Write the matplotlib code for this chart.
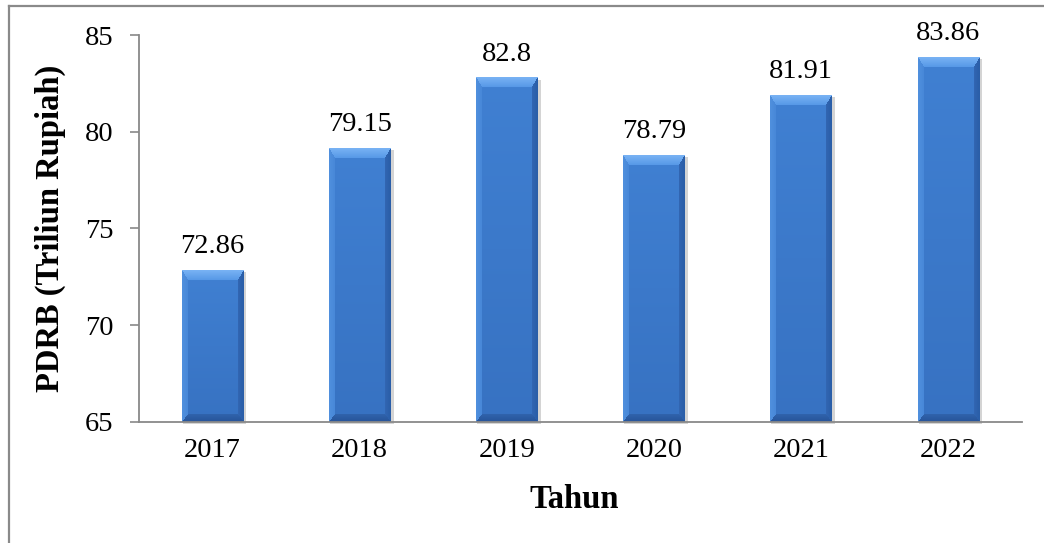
import numpy as np
import matplotlib
matplotlib.use("Agg")
import matplotlib.pyplot as plt
from matplotlib.patches import Rectangle
from matplotlib.lines import Line2D
from matplotlib.colors import to_rgb

tahun = ["2017", "2018", "2019", "2020", "2021", "2022"]
pdrb = [72.86, 79.15, 82.8, 78.79, 81.91, 83.86]
label_teks = ["72.86", "79.15", "82.8", "78.79", "81.91", "83.86"]

plt.rcParams['font.family'] = ['Liberation Serif', 'DejaVu Serif']

fig = plt.figure(figsize=(10.44, 5.43), dpi=100)
ax = fig.add_axes([139/1044, 1 - 421.7/543, (1022-139)/1044, (421.7-35)/543])

x = np.arange(len(tahun))
lebar = 0.42
ymin = 65

px_per_x = 883/6
px_per_y = 386.7/20


def c(h):
    return np.array(to_rgb(h))


def bevel_img(W, H):
    # shaded bar: face + four mitred bevel strips
    i, j = np.mgrid[0:H, 0:W]
    dt = i / 10.0
    db = (H - 1 - i) / 8.0
    dl = j / 6.0
    dr = (W - 1 - j) / 6.0
    d = np.stack([dt, db, dl, dr])
    m = d.min(axis=0)
    k = d.argmin(axis=0)
    f = (i / max(H - 1, 1))[..., None]
    face = c('#4080d2') * (1 - f) + c('#3772c2') * f
    edge = [c('#78b2f4'), c('#27559a'), c('#5090de'), c('#2a5ea8')]
    inner = [c('#5597e6'), c('#3164ae'), c('#4787d8'), c('#3367b4')]
    img = face.copy()
    w = np.clip(m, 0, 1)[..., None]
    for n in range(4):
        sel = (k == n) & (m < 1)
        mix = edge[n] * (1 - w) + inner[n] * w
        img[sel] = mix[sel]
    return img


for xi, v in zip(x, pdrb):
    l, r = xi - lebar/2, xi + lebar/2
    W = int(round(lebar * px_per_x))
    H = int(round((v - ymin) * px_per_y))
    # shadow
    ax.add_patch(Rectangle((l + 1/px_per_x, ymin - 2/px_per_y), lebar + 2/px_per_x, v - ymin,
                           facecolor='#d4d4d4', edgecolor='none', zorder=1, clip_on=False))
    ax.imshow(bevel_img(W, H), extent=(l, r, ymin, v), aspect='auto',
              interpolation='bilinear', zorder=2)

ax.set_xlim(-0.5, 5.5)
ax.set_ylim(65, 85)

for xi, v, t in zip(x, pdrb, label_teks):
    ax.annotate(t, (xi, v), xytext=(0, 12.2), textcoords='offset points',
                ha='center', va='baseline', fontsize=20.5, color='black')

ax.set_xticks(x)
ax.set_xticklabels(tahun, fontsize=20.5)
ax.set_yticks([65, 70, 75, 80, 85])
ax.tick_params(axis='y', labelsize=20.5, length=6.5, width=1.2, color='#898989', pad=12)
ax.tick_params(axis='x', length=0, pad=12)

for s in ['top', 'right']:
    ax.spines[s].set_visible(False)
for s in ['left', 'bottom']:
    ax.spines[s].set_color('#898989')
    ax.spines[s].set_linewidth(1.3)
ax.spines['bottom'].set_zorder(4)

fig.text(50/1044, 1 - 228/543, "PDRB (Triliun Rupiah)", rotation=90, ha='center', va='center',
         fontsize=23.5, fontweight='bold')
fig.text(574/1044, 1 - 500/543, "Tahun", ha='center', va='center', fontsize=23.5, fontweight='bold')

# outer border (left and top only visible)
fig.add_artist(Line2D([9/1044, 9/1044], [0, 1 - 5.5/543], transform=fig.transFigure,
                      color='#8a8a8a', linewidth=1.6))
fig.add_artist(Line2D([9/1044, 1], [1 - 5.5/543, 1 - 5.5/543], transform=fig.transFigure,
                      color='#8a8a8a', linewidth=1.6))

fig.savefig("out.png", dpi=100)
